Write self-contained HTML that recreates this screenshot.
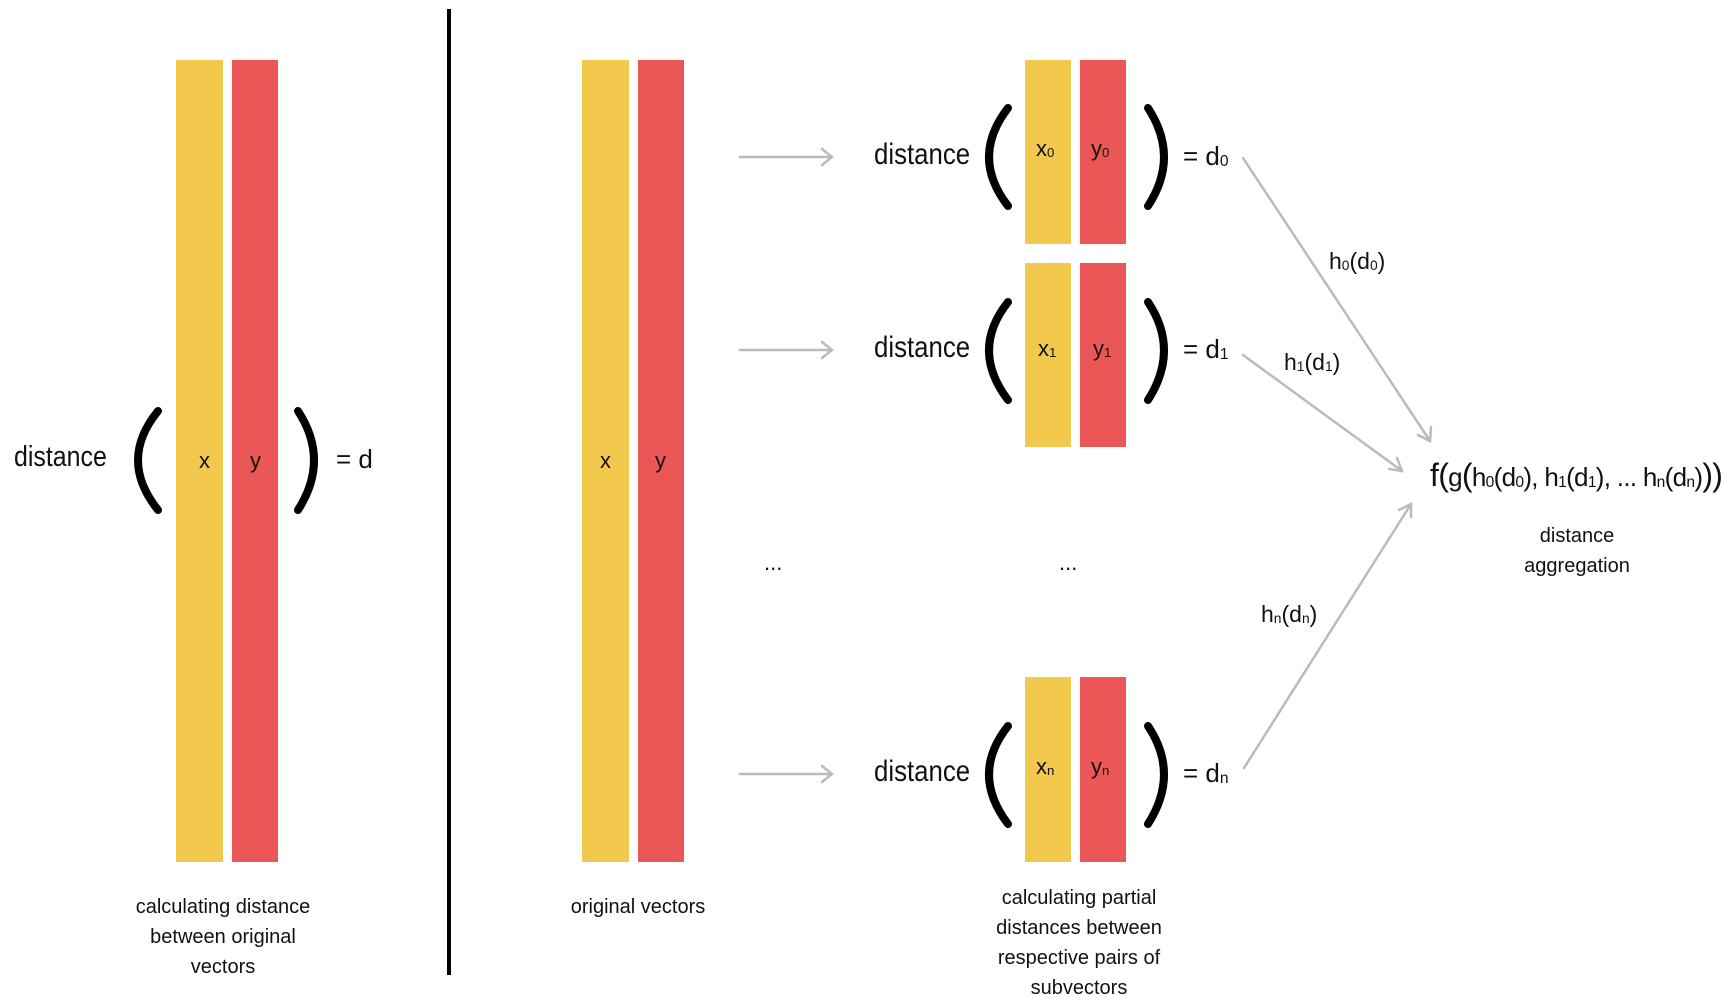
<!DOCTYPE html>
<html><head><meta charset="utf-8"><style>
body{margin:0;width:1730px;height:1006px;background:#fff;position:relative;overflow:hidden;font-family:"Liberation Sans",sans-serif;color:#111}
.b{position:absolute}
.y{background:#F2C94C}.r{background:#EB5757}
.t{position:absolute;white-space:nowrap;line-height:1}
.c{text-align:center;transform:translateX(-50%);font-size:20px;line-height:30px}
.ds{transform-origin:0 0;transform:scaleX(0.86)}
sub{font-size:60%;vertical-align:-1px}
</style></head><body>
<div class="b y" style="left:176px;top:60px;width:47px;height:802px"></div>
<div class="b r" style="left:232px;top:60px;width:46px;height:802px"></div>
<div class="b y" style="left:582px;top:60px;width:47px;height:802px"></div>
<div class="b r" style="left:638px;top:60px;width:46px;height:802px"></div>
<div class="b y" style="left:1025px;top:60px;width:46px;height:184px"></div>
<div class="b r" style="left:1080px;top:60px;width:46px;height:184px"></div>
<div class="b y" style="left:1025px;top:263px;width:46px;height:184px"></div>
<div class="b r" style="left:1080px;top:263px;width:46px;height:184px"></div>
<div class="b y" style="left:1025px;top:677px;width:46px;height:185px"></div>
<div class="b r" style="left:1080px;top:677px;width:46px;height:185px"></div>
<div class="b" style="left:447px;top:9px;width:4px;height:966px;background:#000"></div>

<svg class="b" style="left:0;top:0" width="1730" height="1006">
<g fill="none" stroke="#000" stroke-width="8" stroke-linecap="round">
<path d="M158 411 Q118 460 158 510"/><path d="M298 411 Q330 460 298 510"/>
<path d="M1008 108 Q970 157 1008 206"/><path d="M1148 108 Q1180 157 1148 206"/>
<path d="M1008 302 Q970 350 1008 400"/><path d="M1148 302 Q1180 350 1148 400"/>
<path d="M1008 726 Q970 774 1008 824"/><path d="M1148 726 Q1180 774 1148 824"/>
</g>
<g fill="none" stroke="#bbb" stroke-width="2.5" stroke-linecap="round">
<path d="M740 157H832M822 149L832 157L822 165"/>
<path d="M740 350H832M822 342L832 350L822 358"/>
<path d="M740 774H832M822 766L832 774L822 782"/>
<path d="M1243 158L1430 441M1418 435L1430 441L1431 427"/>
<path d="M1243 355L1402 471M1389 469L1402 471L1397 458"/>
<path d="M1244 768L1411 504M1399 510L1411 504L1411 517"/>
</g>
</svg>

<div class="t ds" style="left:14px;top:443px;font-size:29px">distance</div>
<div class="t" style="left:199px;top:450px;font-size:22px">x</div>
<div class="t" style="left:250px;top:450px;font-size:22px">y</div>
<div class="t" style="left:336px;top:446px;font-size:26px">= d</div>
<div class="t" style="left:600px;top:450px;font-size:22px">x</div>
<div class="t" style="left:655px;top:450px;font-size:22px">y</div>

<div class="t ds" style="left:874px;top:140px;font-size:30px">distance</div>
<div class="t" style="left:1036px;top:138px;font-size:22px">x<sub>0</sub></div>
<div class="t" style="left:1091px;top:138px;font-size:22px">y<sub>0</sub></div>
<div class="t" style="left:1183px;top:143px;font-size:26px">= d<sub>0</sub></div>

<div class="t ds" style="left:874px;top:333px;font-size:30px">distance</div>
<div class="t" style="left:1038px;top:338px;font-size:22px">x<sub>1</sub></div>
<div class="t" style="left:1093px;top:338px;font-size:22px">y<sub>1</sub></div>
<div class="t" style="left:1183px;top:336px;font-size:26px">= d<sub>1</sub></div>

<div class="t ds" style="left:874px;top:757px;font-size:30px">distance</div>
<div class="t" style="left:1036px;top:756px;font-size:22px">x<sub>n</sub></div>
<div class="t" style="left:1091px;top:756px;font-size:22px">y<sub>n</sub></div>
<div class="t" style="left:1183px;top:760px;font-size:26px">= d<sub>n</sub></div>

<div class="t" style="left:764px;top:552px;font-size:22px">...</div>
<div class="t" style="left:1059px;top:552px;font-size:22px">...</div>

<div class="t" style="left:1329px;top:250px;font-size:23px">h<sub>0</sub>(d<sub>0</sub>)</div>
<div class="t" style="left:1284px;top:351px;font-size:23px">h<sub>1</sub>(d<sub>1</sub>)</div>
<div class="t" style="left:1261px;top:603px;font-size:23px">h<sub>n</sub>(d<sub>n</sub>)</div>

<div class="t" style="left:1430px;top:459px;font-size:26px;letter-spacing:-0.7px"><span style="font-size:32px">f(</span>g<span style="font-size:32px">(</span>h<sub>0</sub>(d<sub>0</sub>), h<sub>1</sub>(d<sub>1</sub>), ... h<sub>n</sub>(d<sub>n</sub>)<span style="font-size:32px">))</span></div>

<div class="t c" style="left:1577px;top:521px">distance<br>aggregation</div>
<div class="t c" style="left:223px;top:892px">calculating distance<br>between original<br>vectors</div>
<div class="t c" style="left:638px;top:892px">original vectors</div>
<div class="t c" style="left:1079px;top:883px">calculating partial<br>distances between<br>respective pairs of<br>subvectors</div>
</body></html>
